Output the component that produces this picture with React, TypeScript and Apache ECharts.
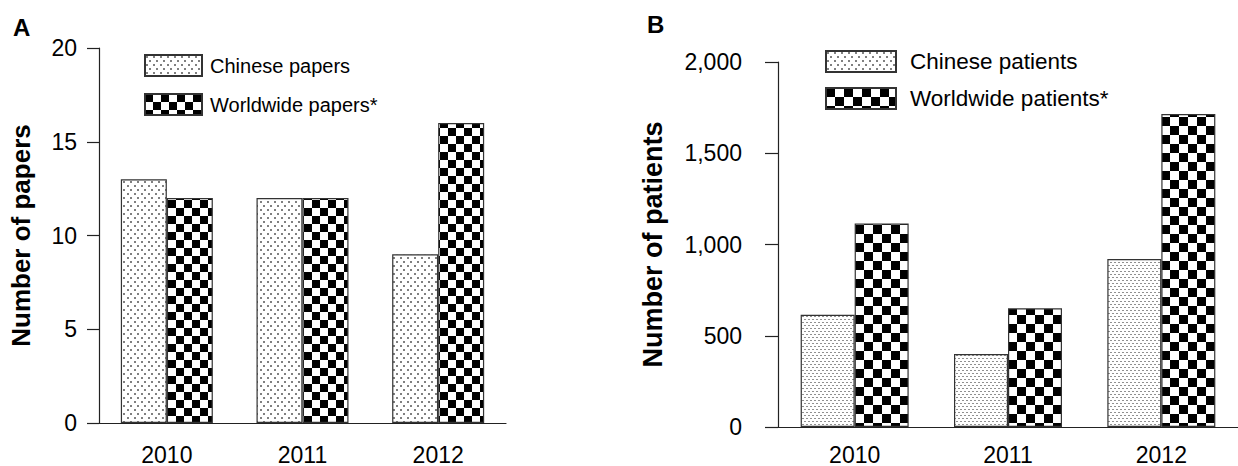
import React, { useEffect, useRef } from 'react';
import * as echarts from 'echarts';

const years = ['2010', '2011', '2012'];
const chinesePapers = [13, 12, 9];
const worldwidePapers = [12, 12, 16];
const chinesePatients = [615, 400, 920];
const worldwidePatients = [1115, 650, 1715];
const paperAxis = { min: 0, max: 20, interval: 5 };
const patientAxis = { min: 0, max: 2000, interval: 500 };

const FONT = 'Liberation Sans, Arial, Helvetica, sans-serif';

function makeTile(w: number, h: number, draw: (ctx: CanvasRenderingContext2D) => void) {
  const c = document.createElement('canvas');
  c.width = w;
  c.height = h;
  const ctx = c.getContext('2d') as CanvasRenderingContext2D;
  ctx.fillStyle = '#ffffff';
  ctx.fillRect(0, 0, w, h);
  draw(ctx);
  return { image: c.toDataURL(), repeat: 'repeat', imageWidth: w, imageHeight: h } as any;
}

export default function App() {
  const ref = useRef<HTMLDivElement>(null);
  useEffect(() => {
    if (!ref.current) return;
    const chart = echarts.init(ref.current, undefined, { renderer: 'svg' });

    const dotsCoarse = makeTile(7, 8, (ctx) => {
      ctx.fillStyle = '#808080';
      ctx.fillRect(1, 1, 2, 2);
      ctx.fillRect(4, 5, 2, 2);
    });
    const dotsFine = makeTile(4, 6, (ctx) => {
      ctx.fillStyle = '#909090';
      ctx.fillRect(0, 1, 2, 1);
      ctx.fillRect(2, 4, 2, 1);
    });
    const checkA = makeTile(16, 16, (ctx) => {
      ctx.fillStyle = '#000000';
      ctx.fillRect(0, 0, 8, 8);
      ctx.fillRect(8, 8, 8, 8);
    });
    const checkB = makeTile(18, 18, (ctx) => {
      ctx.fillStyle = '#000000';
      ctx.fillRect(0, 0, 9, 9);
      ctx.fillRect(9, 9, 9, 9);
    });

    const axisColor = '#222';
    const labelStyle = { color: '#000', fontSize: 23, fontFamily: FONT };
    const border = { borderColor: '#333', borderWidth: 1.2 };

    const option: any = {
      animation: false,
      backgroundColor: '#fff',
      title: [
        { text: 'A', left: 13, top: 15, padding: 0, textStyle: { fontSize: 24, fontWeight: 'bold', color: '#000', fontFamily: FONT } },
        { text: 'B', left: 647, top: 12, padding: 0, textStyle: { fontSize: 24, fontWeight: 'bold', color: '#000', fontFamily: FONT } },
      ],
      legend: [
        {
          left: 144,
          top: 54,
          padding: 0,
          orient: 'vertical',
          icon: 'rect',
          itemWidth: 57,
          itemHeight: 21,
          itemGap: 16,
          textStyle: { color: '#000', fontSize: 20, fontFamily: FONT, padding: [0, 0, 0, 3] },
          data: ['Chinese papers', 'Worldwide papers*'],
        },
        {
          left: 825,
          top: 50,
          padding: 0,
          orient: 'vertical',
          icon: 'rect',
          itemWidth: 70,
          itemHeight: 21,
          itemGap: 14,
          textStyle: { color: '#000', fontSize: 22.5, fontFamily: FONT, padding: [0, 0, 0, 9] },
          data: [
            { name: 'Chinese patients', itemStyle: { color: dotsCoarse } },
            'Worldwide patients*',
          ],
        },
      ],
      grid: [
        { left: 99, top: 48, width: 407, height: 376 },
        { left: 778, top: 62, width: 473, height: 365.5 },
      ],
      xAxis: [0, 1].map((i) => ({
        type: 'category',
        gridIndex: i,
        data: years,
        axisLine: { lineStyle: { color: axisColor, width: 1.2 } },
        axisTick: { alignWithLabel: true, length: i === 0 ? 8 : 7, lineStyle: { color: axisColor, width: 1.2 } },
        axisLabel: { ...labelStyle, margin: i === 0 ? 20 : 16 },
      })),
      yAxis: [0, 1].map((i) => ({
        type: 'value',
        gridIndex: i,
        ...(i === 0 ? paperAxis : patientAxis),
        name: i === 0 ? 'Number of papers' : 'Number of patients',
        nameLocation: 'middle',
        nameRotate: 90,
        nameGap: i === 0 ? 65 : 112,
        nameTextStyle: { fontSize: i === 0 ? 26 : 27, fontWeight: 'bold', color: '#000', fontFamily: FONT },
        axisLine: { show: true, lineStyle: { color: axisColor, width: 1.2 } },
        axisTick: { show: true, length: i === 0 ? 12 : 13, lineStyle: { color: axisColor, width: 1.2 } },
        splitLine: { show: false },
        axisLabel: {
          ...labelStyle,
          margin: i === 0 ? 22 : 36,
          formatter: (v: number) => v.toLocaleString('en-US'),
        },
      })),
      series: [
        {
          name: 'Chinese papers', type: 'bar', xAxisIndex: 0, yAxisIndex: 0, data: chinesePapers,
          barWidth: 46, barGap: '0%',
          itemStyle: { color: dotsCoarse, ...border },
        },
        {
          name: 'Worldwide papers*', type: 'bar', xAxisIndex: 0, yAxisIndex: 0, data: worldwidePapers,
          barWidth: 46, barGap: '0%',
          itemStyle: { color: checkA, ...border },
        },
        {
          name: 'Chinese patients', type: 'bar', xAxisIndex: 1, yAxisIndex: 1, data: chinesePatients,
          barWidth: 54, barGap: '0%',
          itemStyle: { color: dotsFine, ...border },
        },
        {
          name: 'Worldwide patients*', type: 'bar', xAxisIndex: 1, yAxisIndex: 1, data: worldwidePatients,
          barWidth: 54, barGap: '0%',
          itemStyle: { color: checkB, ...border },
        },
      ],
    };
    chart.setOption(option);
    return () => chart.dispose();
  }, []);
  return <div ref={ref} style={{ position: 'fixed', left: 0, top: 0, width: 1238, height: 466 }} />;
}
